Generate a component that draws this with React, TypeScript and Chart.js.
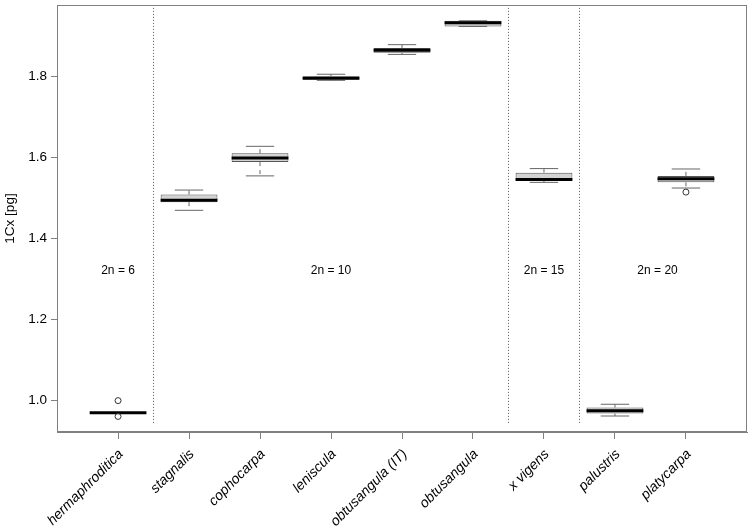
import React, { useEffect, useRef } from 'react';
import { Chart, registerables } from 'chart.js';

Chart.register(...registerables);

const categories = ['hermaphroditica', 'stagnalis', 'cophocarpa', 'leniscula', 'obtusangula (IT)', 'obtusangula', 'x vigens', 'palustris', 'platycarpa'];
const whiskerLow = [0.970, 1.470, 1.555, 1.791, 1.855, 1.924, 1.539, 0.962, 1.525];
const q1 = [0.970, 1.490, 1.589, 1.793, 1.859, 1.924, 1.543, 0.968, 1.539];
const median = [0.970, 1.495, 1.599, 1.796, 1.865, 1.933, 1.546, 0.975, 1.548];
const q3 = [0.970, 1.509, 1.611, 1.801, 1.871, 1.938, 1.563, 0.983, 1.555];
const whiskerHigh = [0.970, 1.520, 1.628, 1.806, 1.879, 1.938, 1.573, 0.991, 1.572];
const outlierCat = [1, 1, 9];
const outlierVal = [1.0, 0.961, 1.515];
const yTicks = [1.0, 1.2, 1.4, 1.6, 1.8];
const separatorX = [1.5, 6.5, 7.5];
const separatorLow = 0.945;
const groupLabels = ['2n = 6', '2n = 10', '2n = 15', '2n = 20'];
const groupX = [1, 4, 7, 8.6];
const groupY = 1.32;
const yMin = 0.9225;
const yMax = 1.977;
const xMin = 0.14;
const xMax = 9.86;

const FONT = '"Liberation Sans", Arial, Helvetica, sans-serif';
const AXIS = '#808080';
const BOX_HALF = 0.4;
const CAP_HALF = 0.2;

const overlayPlugin = {
  id: 'overlay',
  afterDatasetsDraw(chart: any) {
    const { ctx, chartArea, scales } = chart;
    ctx.save();
    ctx.font = `12px ${FONT}`;
    ctx.fillStyle = '#000';
    ctx.textAlign = 'center';
    ctx.textBaseline = 'middle';
    groupLabels.forEach((t, i) => {
      ctx.fillText(t, scales.x.getPixelForValue(groupX[i]), scales.y.getPixelForValue(groupY));
    });
    ctx.strokeStyle = AXIS;
    ctx.lineWidth = 1;
    const l = Math.round(chartArea.left) + 0.5;
    const t = Math.round(chartArea.top) + 0.5;
    const r = Math.round(chartArea.right) - 0.5;
    const b = Math.round(chartArea.bottom) - 0.5;
    ctx.strokeRect(l, t, r - l, b - t);
    ctx.restore();
  },
};

export default function App() {
  const ref = useRef<HTMLCanvasElement | null>(null);

  useEffect(() => {
    if (!ref.current) return;
    const gap = (x: number) => ({ x, y: null as any });

    const boxData = categories.map((_, i) => ({ x: i + 1, y: [q1[i], q3[i]] }));
    const whiskerData: any[] = [];
    const capData: any[] = [];
    const medData: any[] = [];
    categories.forEach((_, i) => {
      const x = i + 1;
      whiskerData.push({ x, y: q3[i] }, { x, y: whiskerHigh[i] }, gap(x));
      whiskerData.push({ x, y: q1[i] }, { x, y: whiskerLow[i] }, gap(x));
      capData.push({ x: x - CAP_HALF, y: whiskerHigh[i] }, { x: x + CAP_HALF, y: whiskerHigh[i] }, gap(x + CAP_HALF));
      capData.push({ x: x - CAP_HALF, y: whiskerLow[i] }, { x: x + CAP_HALF, y: whiskerLow[i] }, gap(x + CAP_HALF));
      medData.push({ x: x - BOX_HALF, y: median[i] }, { x: x + BOX_HALF, y: median[i] }, gap(x + BOX_HALF));
    });
    const sepData: any[] = [];
    separatorX.forEach((x) => {
      sepData.push({ x, y: separatorLow }, { x, y: yMax }, gap(x));
    });
    const outData = outlierCat.map((c, i) => ({ x: c, y: outlierVal[i] }));

    const lineBase = {
      type: 'line' as const,
      pointRadius: 0,
      pointHoverRadius: 0,
      fill: false,
      tension: 0,
      spanGaps: false,
      borderCapStyle: 'butt' as const,
    };

    const chart = new Chart(ref.current, {
      type: 'line',
      data: {
        datasets: [
          { ...lineBase, label: 'separators', data: sepData, borderColor: '#555', borderWidth: 1, borderDash: [1, 2], order: 6 } as any,
          { ...lineBase, label: 'whiskers', data: whiskerData, borderColor: '#666', borderWidth: 1, borderDash: [4, 4], order: 5 } as any,
          {
            type: 'bar',
            label: 'box',
            data: boxData,
            backgroundColor: '#d3d3d3',
            borderColor: '#555',
            borderWidth: 1,
            borderSkipped: false,
            barPercentage: 1,
            categoryPercentage: 0.8,
            order: 4,
          } as any,
          { ...lineBase, label: 'caps', data: capData, borderColor: '#666', borderWidth: 1, order: 3 } as any,
          { ...lineBase, label: 'median', data: medData, borderColor: '#000', borderWidth: 3, order: 2 } as any,
          {
            type: 'scatter',
            label: 'outliers',
            data: outData,
            pointStyle: 'circle',
            pointRadius: 3,
            pointBackgroundColor: 'rgba(0,0,0,0)',
            pointBorderColor: '#333',
            pointBorderWidth: 1,
            showLine: false,
            order: 1,
          } as any,
        ],
      },
      options: {
        animation: false,
        responsive: false,
        events: [],
        layout: { padding: { top: 4, right: 4, left: 0, bottom: 0 } },
        plugins: { legend: { display: false }, tooltip: { enabled: false } },
        scales: {
          x: {
            type: 'linear',
            min: xMin,
            max: xMax,
            offset: false,
            afterBuildTicks: (s: any) => {
              s.ticks = categories.map((_, i) => ({ value: i + 1 }));
            },
            afterFit: (s: any) => {
              s.height = 98;
              s.paddingLeft = 0;
              s.paddingRight = 0;
            },
            ticks: {
              autoSkip: false,
              maxRotation: 45,
              minRotation: 45,
              padding: 7,
              labelOffset: 3,
              color: '#000',
              font: { family: FONT, size: 14, style: 'italic' },
              callback: (v: any) => categories[Math.round(Number(v)) - 1] ?? '',
            },
            grid: { offset: false, drawOnChartArea: false, drawTicks: true, tickLength: 7, color: AXIS, tickColor: AXIS },
            border: { display: true, color: AXIS },
          },
          y: {
            type: 'linear',
            min: yMin,
            max: yMax,
            afterBuildTicks: (s: any) => {
              s.ticks = yTicks.map((v) => ({ value: v }));
            },
            afterFit: (s: any) => {
              s.width = 57;
              s.paddingTop = 0;
              s.paddingBottom = 0;
            },
            ticks: {
              padding: 4,
              color: '#000',
              font: { family: FONT, size: 13.5 },
              callback: (v: any) => Number(v).toFixed(1),
            },
            grid: { offset: false, drawOnChartArea: false, drawTicks: true, tickLength: 6, color: AXIS, tickColor: AXIS },
            border: { display: true, color: AXIS },
            title: {
              display: true,
              text: '1Cx [pg]',
              color: '#000',
              font: { family: FONT, size: 13.5 },
              padding: { top: 2, bottom: 0 },
            },
          },
        },
      },
      plugins: [overlayPlugin],
    });
    return () => chart.destroy();
  }, []);

  return (
    <div style={{ position: 'fixed', left: 0, top: 0, width: 752, height: 530, background: '#fff' }}>
      <canvas ref={ref} width={752} height={530} style={{ display: 'block' }} />
    </div>
  );
}
